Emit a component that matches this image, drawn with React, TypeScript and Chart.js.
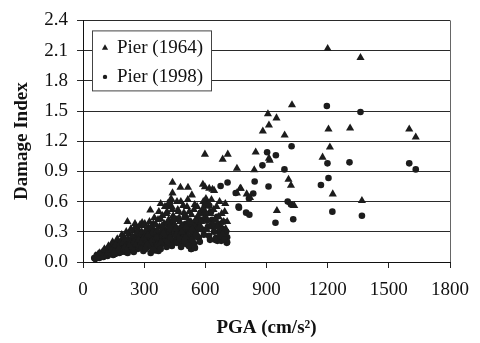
import React, { useEffect, useRef } from 'react';
import { Chart, registerables } from 'chart.js';

Chart.register(...registerables);

const seriesLabels = ['Pier (1964)', 'Pier (1998)'];
const xTitle = 'PGA (cm/s²)';
const yTitle = 'Damage Index';
const xMin = 0;
const xMax = 1800;
const xStep = 300;
const yMin = 0;
const yMax = 2.4;
const yStep = 0.3;

// [PGA, Damage Index]
const pier1964: [number, number][] = [
  [1200, 2.12], [1361, 2.03], [1025, 1.56], [907, 1.47], [949, 1.43], [912, 1.36], [882, 1.3], [989, 1.26],
  [1204, 1.32], [1310, 1.33], [1600, 1.32], [1632, 1.24], [1211, 1.14], [847, 1.09], [912, 1.03], [916, 1.01],
  [1175, 1.04], [840, 0.915], [755, 0.93], [598, 1.07], [710, 1.07], [685, 1.02], [774, 0.73], [1008, 0.82],
  [1020, 0.76], [1225, 0.675], [1368, 0.61], [951, 0.51], [1036, 0.56], [803, 0.675], [819, 0.64], [588, 0.77],
  [598, 0.745], [635, 0.72], [771, 0.73], [755, 0.685], [707, 0.4],
  [439, 0.79], [439, 0.685], [478, 0.74], [515, 0.74], [534, 0.665], [619, 0.73], [643, 0.71], [381, 0.58],
  [330, 0.515], [218, 0.4], [255, 0.38], [290, 0.39], [603, 0.63], [442, 0.435],
  [62, 0.06], [75, 0.08], [88, 0.05], [95, 0.1], [108, 0.07], [115, 0.12], [128, 0.1], [135, 0.15],
  [142, 0.09], [150, 0.18], [158, 0.13], [165, 0.2], [172, 0.11], [180, 0.16], [188, 0.22], [195, 0.14],
  [202, 0.25], [210, 0.18], [215, 0.12], [225, 0.28], [232, 0.21], [240, 0.15], [248, 0.31], [255, 0.24],
  [262, 0.18], [270, 0.33], [278, 0.27], [285, 0.2], [292, 0.36], [300, 0.25], [308, 0.3], [315, 0.18],
  [322, 0.34], [330, 0.28], [338, 0.22], [345, 0.38], [352, 0.31], [360, 0.25], [368, 0.42], [375, 0.35],
  [382, 0.2], [390, 0.46], [398, 0.38], [405, 0.3], [412, 0.5], [420, 0.42], [428, 0.33], [435, 0.55],
  [442, 0.46], [450, 0.37], [458, 0.28], [465, 0.52], [472, 0.44], [480, 0.6], [488, 0.35], [495, 0.49],
  [502, 0.25], [510, 0.55], [518, 0.41], [525, 0.31], [532, 0.47], [540, 0.38], [548, 0.57], [556, 0.29],
  [565, 0.45], [575, 0.36], [585, 0.52], [595, 0.44], [605, 0.33], [615, 0.58], [625, 0.48], [635, 0.39],
  [645, 0.3], [655, 0.55], [665, 0.45], [675, 0.36], [685, 0.28], [695, 0.5], [700, 0.33],
  [70, 0.05], [82, 0.09], [100, 0.06], [105, 0.13], [120, 0.09], [125, 0.16], [138, 0.12], [145, 0.2],
  [152, 0.1], [160, 0.17], [168, 0.23], [176, 0.14], [183, 0.19], [190, 0.27], [198, 0.2], [205, 0.15],
  [212, 0.3], [220, 0.23], [228, 0.17], [235, 0.33], [242, 0.26], [250, 0.2], [258, 0.35], [265, 0.29],
  [273, 0.22], [280, 0.37], [288, 0.3], [296, 0.24], [303, 0.38], [311, 0.33], [318, 0.27], [326, 0.4],
  [334, 0.35], [342, 0.3], [350, 0.44], [358, 0.37], [365, 0.32], [372, 0.5], [380, 0.43], [388, 0.36],
  [395, 0.29], [402, 0.55], [410, 0.48], [418, 0.4], [425, 0.35], [432, 0.63], [438, 0.52], [446, 0.42],
  [453, 0.33], [461, 0.6], [468, 0.5], [476, 0.4], [484, 0.3], [491, 0.56], [498, 0.44], [506, 0.35],
  [514, 0.62], [521, 0.5], [529, 0.4], [536, 0.33], [544, 0.52], [552, 0.42], [560, 0.55], [570, 0.48],
  [580, 0.4], [590, 0.6], [600, 0.5], [610, 0.42], [620, 0.35], [630, 0.62], [640, 0.52], [650, 0.42],
  [660, 0.35], [670, 0.6], [680, 0.48], [690, 0.4], [698, 0.58],
];

const pier1998: [number, number][] = [
  [1196, 1.55], [1361, 1.49], [1023, 1.15], [903, 1.09], [946, 1.06], [880, 0.96], [1199, 0.98], [1307, 0.99],
  [1600, 0.98], [1632, 0.92], [988, 0.92], [842, 0.8], [910, 0.75], [1167, 0.765], [1204, 0.835], [1368, 0.46],
  [1223, 0.5], [1031, 0.425], [944, 0.39], [1004, 0.6], [1020, 0.57], [814, 0.63], [835, 0.68], [763, 0.55],
  [800, 0.49], [816, 0.47], [709, 0.79], [749, 0.685], [765, 0.54], [707, 0.245], [675, 0.755],
  [418, 0.56], [426, 0.595], [611, 0.58], [619, 0.56], [555, 0.355], [571, 0.4], [506, 0.18], [539, 0.195],
  [531, 0.13], [354, 0.115], [659, 0.21], [707, 0.195],
  [55, 0.04], [68, 0.07], [80, 0.04], [92, 0.08], [100, 0.05], [112, 0.09], [120, 0.06], [126, 0.13],
  [133, 0.08], [140, 0.12], [148, 0.07], [155, 0.15], [162, 0.1], [170, 0.14], [178, 0.09], [185, 0.18],
  [192, 0.11], [200, 0.16], [208, 0.1], [216, 0.21], [222, 0.14], [230, 0.19], [238, 0.12], [245, 0.24],
  [252, 0.16], [260, 0.21], [268, 0.13], [275, 0.26], [282, 0.18], [290, 0.23], [296, 0.11], [304, 0.28],
  [310, 0.2], [318, 0.15], [325, 0.25], [332, 0.09], [340, 0.19], [348, 0.3], [355, 0.14], [362, 0.22],
  [370, 0.11], [378, 0.28], [386, 0.18], [394, 0.33], [402, 0.24], [410, 0.15], [418, 0.37], [425, 0.29],
  [432, 0.2], [440, 0.4], [448, 0.32], [455, 0.22], [462, 0.43], [470, 0.28], [478, 0.18], [485, 0.35],
  [492, 0.25], [500, 0.45], [508, 0.3], [515, 0.2], [522, 0.38], [530, 0.13], [537, 0.27], [545, 0.18],
  [552, 0.35], [560, 0.4], [568, 0.24], [578, 0.49], [588, 0.32], [598, 0.56], [608, 0.41], [618, 0.26],
  [628, 0.5], [638, 0.35], [648, 0.22], [658, 0.45], [668, 0.3], [678, 0.21], [688, 0.4], [698, 0.26],
  [705, 0.19],
  [60, 0.03], [75, 0.05], [86, 0.06], [97, 0.09], [106, 0.07], [116, 0.11], [123, 0.08], [130, 0.1],
  [137, 0.14], [144, 0.1], [151, 0.12], [158, 0.08], [166, 0.16], [174, 0.12], [181, 0.15], [188, 0.1],
  [196, 0.19], [204, 0.13], [212, 0.17], [219, 0.09], [227, 0.16], [234, 0.22], [241, 0.17], [249, 0.1],
  [256, 0.19], [263, 0.25], [271, 0.17], [278, 0.22], [286, 0.14], [293, 0.27], [300, 0.19], [307, 0.13],
  [314, 0.23], [321, 0.3], [329, 0.17], [336, 0.26], [344, 0.12], [351, 0.22], [358, 0.27], [366, 0.17],
  [374, 0.24], [381, 0.13], [389, 0.3], [397, 0.2], [405, 0.27], [413, 0.2], [421, 0.32], [429, 0.24],
  [436, 0.16], [444, 0.36], [451, 0.27], [459, 0.19], [466, 0.33], [474, 0.23], [481, 0.15], [489, 0.3],
  [497, 0.21], [504, 0.38], [512, 0.26], [519, 0.16], [527, 0.33], [534, 0.22], [542, 0.3], [549, 0.14],
  [557, 0.25], [564, 0.33], [573, 0.2], [583, 0.42], [593, 0.27], [603, 0.48], [613, 0.35], [623, 0.22],
  [633, 0.42], [643, 0.3], [653, 0.24], [663, 0.38], [673, 0.26], [683, 0.33], [693, 0.22], [702, 0.3],
];

const FONT = '"Liberation Serif", "Times New Roman", serif';
const INK = '#1c1c1c';

const framePlugin = {
  id: 'frameAndLegend',
  afterDatasetsDraw(chart: any) {
    const { ctx, chartArea } = chart;
    ctx.save();
    // right frame edge
    ctx.strokeStyle = '#666';
    ctx.lineWidth = 1;
    ctx.beginPath();
    ctx.moveTo(Math.round(chartArea.right) + 0.5, chartArea.top);
    ctx.lineTo(Math.round(chartArea.right) + 0.5, chartArea.bottom);
    ctx.stroke();

    // legend box
    const x = chartArea.left + 9;
    const y = chartArea.top + 10;
    const w = 119;
    const h = 60;
    ctx.fillStyle = '#ffffff';
    ctx.fillRect(x, y, w, h);
    ctx.strokeStyle = '#444';
    ctx.strokeRect(x + 0.5, y + 0.5, w, h);

    chart.data.datasets.forEach((ds: any, i: number) => {
      const cy = y + 17.5 + i * 29;
      const cx = x + 13;
      ctx.fillStyle = INK;
      ctx.beginPath();
      if (ds.pointStyle === 'triangle') {
        const r = 3.6;
        ctx.moveTo(cx, cy - r);
        ctx.lineTo(cx + r * 0.866, cy + r * 0.5);
        ctx.lineTo(cx - r * 0.866, cy + r * 0.5);
        ctx.closePath();
      } else {
        ctx.arc(cx, cy, 2.2, 0, Math.PI * 2);
      }
      ctx.fill();
      ctx.font = `19px ${FONT}`;
      ctx.textBaseline = 'middle';
      ctx.textAlign = 'left';
      ctx.fillStyle = '#111';
      ctx.fillText(ds.label, x + 25, cy);
    });
    ctx.restore();
  },
};

export default function App() {
  const canvasRef = useRef<HTMLCanvasElement | null>(null);

  useEffect(() => {
    const canvas = canvasRef.current;
    if (!canvas) return;
    const chart = new Chart(canvas, {
      type: 'scatter',
      data: {
        datasets: [
          {
            label: seriesLabels[0],
            data: pier1964.map(([x, y]) => ({ x, y })),
            pointStyle: 'triangle',
            pointRadius: 4.7,
            pointBorderWidth: 0,
            backgroundColor: INK,
            borderColor: INK,
          },
          {
            label: seriesLabels[1],
            data: pier1998.map(([x, y]) => ({ x, y })),
            pointStyle: 'circle',
            pointRadius: 3.3,
            pointBorderWidth: 0,
            backgroundColor: INK,
            borderColor: INK,
          },
        ],
      },
      options: {
        animation: false,
        responsive: false,
        devicePixelRatio: 1,
        events: [],
        layout: { padding: { left: 0, right: 23, top: 12, bottom: 0 } },
        plugins: {
          legend: { display: false },
          tooltip: { enabled: false },
        },
        scales: {
          x: {
            type: 'linear',
            min: xMin,
            max: xMax,
            afterFit: (s: any) => {
              s.height = 81;
            },
            ticks: {
              stepSize: xStep,
              font: { family: FONT, size: 19 },
              color: '#111',
              padding: 11,
              maxRotation: 0,
              autoSkip: false,
              callback: (v: any) => String(Math.round(Number(v))),
            },
            grid: { drawOnChartArea: false, drawTicks: true, tickLength: 6, color: '#222' },
            border: { display: true, color: '#111', width: 1 },
            title: {
              display: true,
              text: xTitle,
              font: { family: FONT, size: 19, weight: 'bold' },
              color: '#111',
              padding: { top: 0, bottom: 4 },
            },
          },
          y: {
            type: 'linear',
            min: yMin,
            max: yMax,
            afterFit: (s: any) => {
              s.width = 83;
            },
            ticks: {
              stepSize: yStep,
              font: { family: FONT, size: 19 },
              color: '#111',
              padding: 9,
              callback: (v: any) => Number(v).toFixed(1),
            },
            grid: { color: '#2a2a2a', tickLength: 6, drawTicks: true },
            border: { display: true, color: '#111', width: 1 },
            title: {
              display: true,
              text: yTitle,
              font: { family: FONT, size: 19, weight: 'bold' },
              color: '#111',
              padding: { top: 11, bottom: 0 },
            },
          },
        },
      },
      plugins: [framePlugin],
    });
    return () => chart.destroy();
  }, []);

  return (
    <div style={{ position: 'fixed', left: 0, top: 0, width: 480, height: 343, background: '#fff' }}>
      <canvas ref={canvasRef} width={480} height={343} style={{ display: 'block' }} />
    </div>
  );
}
